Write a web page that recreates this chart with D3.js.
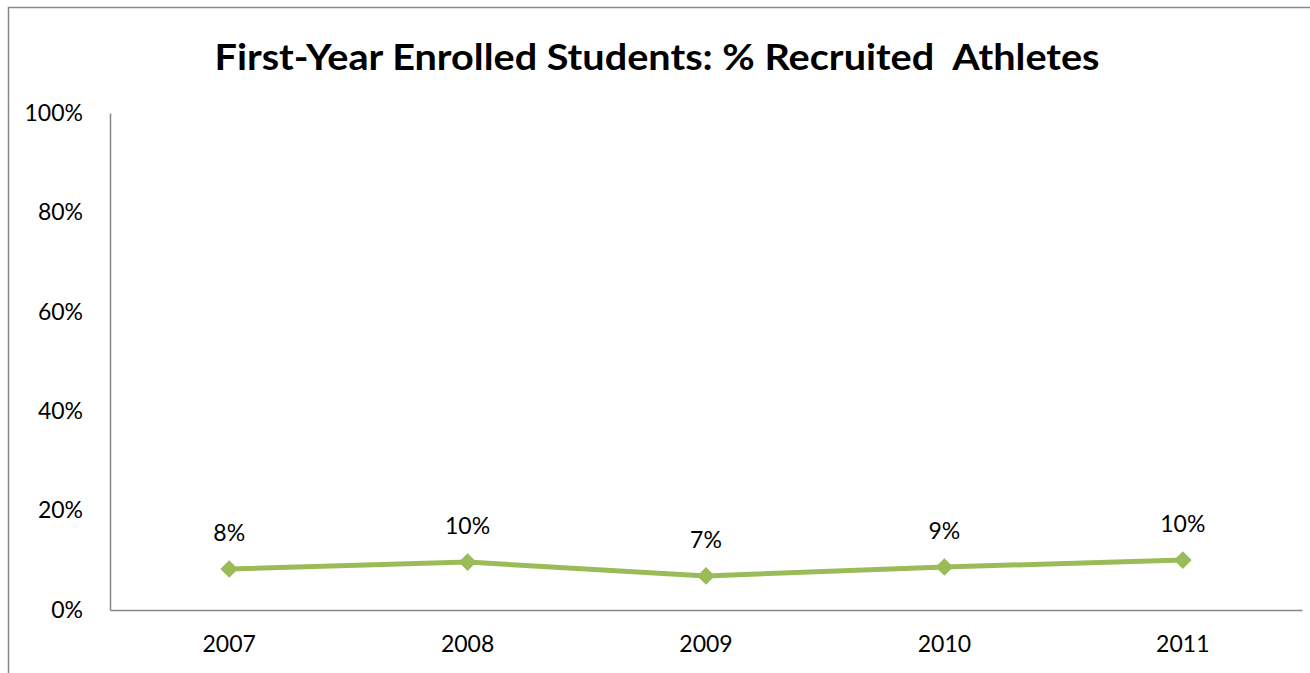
<!DOCTYPE html>
<html>
<head>
<meta charset="utf-8">
<script src="https://cdn.jsdelivr.net/npm/d3@7"></script>
<style>
  html, body { margin: 0; padding: 0; background: #fff; }
  svg { display: block; }
</style>
</head>
<body>
<svg id="chart" width="1310" height="673"></svg>
<script>
// Share of first-year enrolled students who were recruited athletes
const years = ["2007", "2008", "2009", "2010", "2011"];
const shares = [0.0825, 0.0965, 0.0685, 0.0865, 0.1005];
const yTicks = [0, 0.2, 0.4, 0.6, 0.8, 1.0];
const titleText = "First-Year Enrolled Students: % Recruited  Athletes";

const W = 1310, H = 673;
const plot = { left: 110, right: 1302, top: 113, bottom: 610 };
const font = "Lato, 'Open Sans', sans-serif";
const lineColor = "#9BBB59";
const axisColor = "#868686";

const svg = d3.select("#chart");

// chart frame
svg.append("path")
  .attr("d", `M8.5,${H + 2} V7.5 H${W + 2}`)
  .attr("fill", "none")
  .attr("stroke", axisColor)
  .attr("stroke-width", 1.5);

svg.append("text")
  .attr("x", 657).attr("y", 70)
  .attr("text-anchor", "middle")
  .attr("font-family", font)
  .attr("font-weight", "bold")
  .attr("font-size", 36)
  .attr("textLength", 885)
  .attr("lengthAdjust", "spacingAndGlyphs")
  .attr("fill", "#000")
  .style("white-space", "pre")
  .text(titleText);

const x = d3.scaleBand().domain(years).range([plot.left, plot.right]);
const y = d3.scaleLinear().domain([0, 1]).range([plot.bottom, plot.top]);

// y axis
const yAxis = svg.append("g")
  .attr("transform", `translate(${plot.left},0)`)
  .call(d3.axisLeft(y).tickValues(yTicks).tickFormat(d3.format(".0%")).tickSize(0).tickPadding(27));
yAxis.select(".domain").attr("stroke", axisColor).attr("stroke-width", 1.5);
yAxis.selectAll("text")
  .attr("font-family", font).attr("font-size", 23).attr("fill", "#000");

// x axis
const xAxis = svg.append("g")
  .attr("transform", `translate(0,${plot.bottom})`)
  .call(d3.axisBottom(x).tickSize(0).tickPadding(26));
xAxis.select(".domain").attr("stroke", axisColor).attr("stroke-width", 1.5);
xAxis.selectAll("text")
  .attr("font-family", font).attr("font-size", 23).attr("fill", "#000");

const cx = (d, i) => x(years[i]) + x.bandwidth() / 2;

// series line
svg.append("path")
  .datum(shares)
  .attr("fill", "none")
  .attr("stroke", lineColor)
  .attr("stroke-width", 5)
  .attr("stroke-linejoin", "round")
  .attr("d", d3.line().x(cx).y(d => y(d)));

// diamond markers
svg.selectAll(".marker")
  .data(shares)
  .join("path")
  .attr("class", "marker")
  .attr("transform", (d, i) => `translate(${cx(d, i)},${y(d)})`)
  .attr("d", d3.symbol().type(d3.symbolDiamond2).size(200))
  .attr("fill", lineColor);

// value labels
svg.selectAll(".value-label")
  .data(shares)
  .join("text")
  .attr("class", "value-label")
  .attr("x", cx)
  .attr("y", d => y(d) - 28)
  .attr("text-anchor", "middle")
  .attr("font-family", font)
  .attr("font-size", 23)
  .attr("fill", "#000")
  .text(d => d3.format(".0%")(d));
</script>
</body>
</html>
